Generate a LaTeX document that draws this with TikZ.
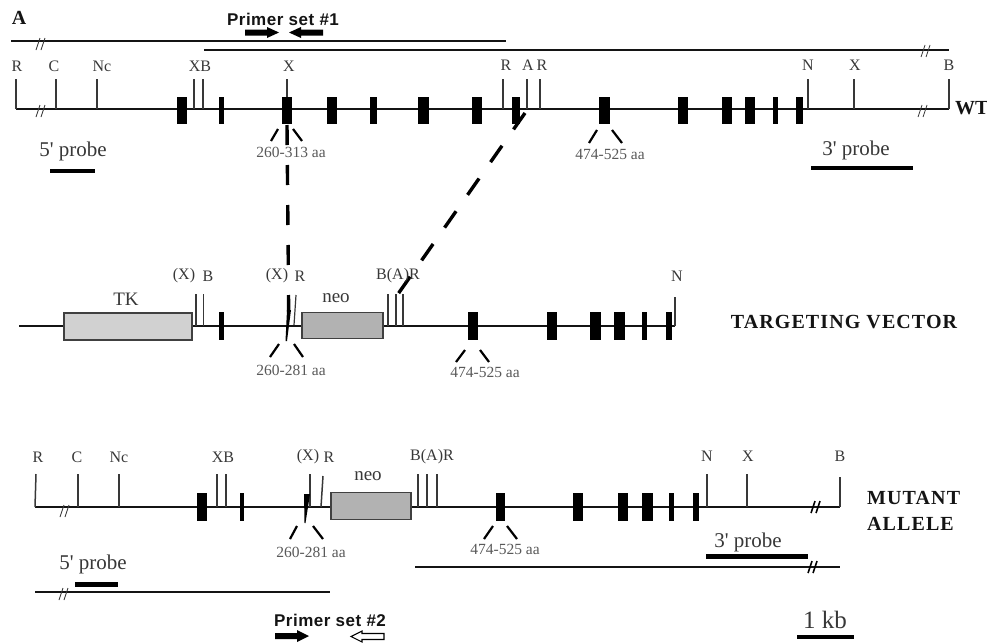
\documentclass[tikz,border=0pt]{standalone}
\usepackage{fontspec}
\setmainfont{Liberation Serif}
\newfontfamily\primerfont[LetterSpace=3]{Liberation Sans}
\newfontfamily\titlefont[LetterSpace=5.5]{Liberation Serif}
\newfontfamily\plainserif[Ligatures=NoCommon]{Liberation Serif}
\usetikzlibrary{calc}
\definecolor{ink}{gray}{0.08}
\definecolor{txt}{gray}{0.22}
\definecolor{tkfill}{gray}{0.82}
\definecolor{neofill}{gray}{0.70}
\tikzset{
  baseline line/.style={draw=ink,line width=2pt},
  cut tick/.style={draw=txt,line width=1.2pt},
  exon/.style={fill=black,draw=none},
  slash/.style={draw=black,line width=2.2pt},
  brk/.style={draw=txt,line width=0.8pt},
  brkbold/.style={draw=black,line width=1.6pt},
  probe/.style={fill=black,draw=none},
  site/.style={font=\fontsize{16}{16}\selectfont,text=txt,inner sep=0pt},
  aa/.style={font=\fontsize{15.5}{16}\selectfont,text=black!65,inner sep=0pt},
  probetext/.style={font=\plainserif\fontsize{21}{21}\selectfont,text=txt,inner sep=0pt},
  boxtext/.style={font=\fontsize{19}{19}\selectfont,text=txt,inner sep=0pt},
  primer/.style={font=\primerfont\bfseries\fontsize{17}{17}\selectfont,text=ink,inner sep=0pt},
  title/.style={font=\titlefont\bfseries\fontsize{20}{26}\selectfont,text=ink,inner sep=0pt,align=left},
  cassette/.style={draw=black!75,line width=1.3pt},
  homology/.style={draw=black,line width=3.4pt,dash pattern=on 20pt off 20pt},
}
\newcommand{\exn}[4]{\fill[exon] (#1,#3) rectangle (#2,#4);}
\newcommand{\tck}[3]{\draw[cut tick] (#1,#2) -- (#1,#3);}
\newcommand{\slsh}[4]{\draw[slash] (#1,#2) -- (#3,#4);}
\newcommand{\brkmark}[3]{\draw[#3] (#1-1,#2+6) -- (#1+3,#2-6) (#1+4,#2+6) -- (#1+8,#2-6);}
\begin{document}
\begin{tikzpicture}[x=1pt,y=-1pt]
\useasboundingbox (0,0) rectangle (987,643);
\fill[white] (0,0) rectangle (987,643);

% ---- Top: panel letter, primers, clone lines
\node[title,font=\bfseries\fontsize{20}{20}\selectfont] (lblA) at (19,18) {A};
\node[primer] (p1) at (283,19) {Primer set \#1};
\fill (245,29.5) -- (267,29.5) -- (267,27) -- (279,32.5) -- (267,38) -- (267,35.5) -- (245,35.5) -- cycle;
\fill (323,29.5) -- (301,29.5) -- (301,27) -- (289,32.5) -- (301,38) -- (301,35.5) -- (323,35.5) -- cycle;
\coordinate (c1a) at (11,41); \coordinate (c1b) at (506,41);
\coordinate (c2a) at (204,49.5); \coordinate (c2b) at (949,49.5);
\draw[baseline line] (c1a) -- (c1b);
\draw[baseline line] (c2a) -- (c2b);
\brkmark{37}{44}{brk}
\brkmark{922}{51}{brk}

% ---- WT
\coordinate (wta) at (16,109); \coordinate (wtb) at (949,109);
\draw[baseline line] (wta) -- (wtb);
\foreach \x in {16,56,97,194,203,287,503,527,540,808,854,949} {\tck{\x}{79}{109}}
\foreach \a/\b in {177/187,219/224,282/292,327/337,370/377,418/429,472/482,512/520,599/610,678/688,722/732,745/755,773/778,796/803} {\exn{\a}{\b}{97}{124}}
\brkmark{37}{111}{brk}
\brkmark{919}{111}{brk}
\node[site] (w1) at (17,66) {R};
\node[site] (w2) at (54,66) {C};
\node[site] (w3) at (102,66) {Nc};
\node[site] (w4) at (200,66) {XB};
\node[site] (w5) at (289,66) {X};
\node[site] (w6) at (506,65) {R};
\node[site] (w7) at (528,65) {A};
\node[site] (w8) at (542,65) {R};
\node[site] (w9) at (808,65) {N};
\node[site] (w10) at (855,65) {X};
\node[site] (w11) at (949,65) {B};
\node[title,anchor=west,font=\bfseries\fontsize{20}{20}\selectfont] (wt) at (955,108) {WT};
\slsh{278}{129}{271}{141}
\slsh{293}{129}{302}{141}
\slsh{597}{130}{589}{143}
\slsh{612}{130}{622}{143}
\node[aa] (waa1) at (291,152) {260-313 aa};
\node[aa] (waa2) at (610,154) {474-525 aa};
\node[probetext] (wp5) at (73,151) {5' probe};
\node[probetext] (wp3) at (856,150) {3' probe};
\fill[probe] (50,169) rectangle (95,173);
\fill[probe] (811,166) rectangle (913,170);

% ---- Homology dashed lines
\coordinate (h1a) at (287,125); \coordinate (h1b) at (288.3,266);
\coordinate (h1c) at (288.5,295); \coordinate (h1d) at (288.7,312);
\coordinate (h2a) at (525,113); \coordinate (h2b) at (398,294);
\draw[homology] (h1a) -- (h1b);
\draw[homology,dash pattern=on 20pt off 0pt] (h1c) -- (h1d);
\draw[homology] (h2a) -- (h2b);

% ---- Targeting vector
\coordinate (va) at (19,325.5); \coordinate (vb) at (675,325.5);
\draw[baseline line] (va) -- (vb);
\node[cassette,fill=tkfill,minimum width=128pt,minimum height=27pt,inner sep=0pt] (tkbox) at (128,326.5) {};
\node[cassette,fill=neofill,minimum width=81pt,minimum height=25.5pt,inner sep=0pt] (vneo) at (342.5,325.5) {};
\foreach \x in {196,203.5,388,396,403} {\tck{\x}{294}{326}}
\tck{675}{297}{326}
\draw[cut tick] (296,295) -- (294,325);
\foreach \a/\b in {219/224,468/478,547/557,590/601,614/625,642/647,666/672} {\exn{\a}{\b}{312}{340}}
\fill (287,310) -- (291,310) -- (287,341) -- (285.5,341) -- cycle;
\slsh{279}{344}{270}{357}
\slsh{294}{344}{303}{357}
\slsh{465}{350}{456}{362}
\slsh{480}{350}{489}{362}
\node[site] (v1) at (184,276) {(X)};
\node[site] (v2) at (208,276) {B};
\node[site] (v3) at (277,276) {(X)};
\node[site] (v4) at (300,276) {R};
\node[site] (v5) at (398,276) {B(A)R};
\node[site] (v6) at (677,276) {N};
\node[boxtext] (vtk) at (126,299) {TK};
\node[boxtext] (vn) at (336,298) {neo};
\node[aa] (vaa1) at (291,370) {260-281 aa};
\node[aa] (vaa2) at (485,372) {474-525 aa};
\node[title] (vt) at (844,322) {TARGETING VECTOR};

% ---- Mutant allele
\coordinate (ma) at (35,507); \coordinate (mb) at (840,507);
\draw[baseline line] (ma) -- (mb);
\foreach \x in {78,119,217,226,310,418,427,437,707,747} {\tck{\x}{474}{507}}
\tck{840}{477}{507}
\draw[cut tick,line width=1.5pt] (36,474) -- (35,507);
\draw[cut tick,line width=1.5pt] (323,476) -- (321,507);
\foreach \a/\b in {197/207,240/244,496/505,573/583,618/628,642/653,669/674,693/699} {\exn{\a}{\b}{493}{521}}
\fill (304,494) -- (310,494) -- (305.5,523) -- (304.5,523) -- cycle;
\node[cassette,fill=neofill,minimum width=80pt,minimum height=27pt,inner sep=0pt] (mneo) at (371,506) {};
\brkmark{61}{511}{brk}
\brkmark{812}{507}{brkbold}
\node[site] (m1) at (38,457) {R};
\node[site] (m2) at (77,457) {C};
\node[site] (m3) at (119,457) {Nc};
\node[site] (m4) at (223,457) {XB};
\node[site] (m5) at (308,457) {(X)};
\node[site] (m6) at (329,457) {R};
\node[site] (m7) at (432,457) {B(A)R};
\node[site] (m8) at (707,456) {N};
\node[site] (m9) at (748,456) {X};
\node[site] (m10) at (840,456) {B};
\node[boxtext] (mn) at (368,476) {neo};
\slsh{297}{526}{290}{539}
\slsh{313}{526}{323}{539}
\slsh{493}{526}{484}{539}
\slsh{507}{526}{517}{539}
\node[aa] (maa1) at (311,552) {260-281 aa};
\node[aa] (maa2) at (505,549) {474-525 aa};
\node[title,anchor=north west] (mt) at (867,491) {MUTANT\\ALLELE};

% ---- Mutant probes and lines
\node[probetext] (mp5) at (93,564) {5' probe};
\node[probetext] (mp3) at (748,542) {3' probe};
\fill[probe] (75,581.5) rectangle (118,587);
\fill[probe] (706,553.5) rectangle (808,558.5);
\coordinate (l1a) at (35,591.5); \coordinate (l1b) at (330,591.5);
\coordinate (l2a) at (415,566.5); \coordinate (l2b) at (840,566.5);
\draw[baseline line] (l1a) -- (l1b);
\draw[baseline line] (l2a) -- (l2b);
\brkmark{60}{594}{brk}
\brkmark{809}{567}{brkbold}

% ---- Primer set 2 and scale
\node[primer] (p2) at (330,620) {Primer set \#2};
\fill (275,633) -- (297,633) -- (297,630) -- (309,636) -- (297,642) -- (297,639) -- (275,639) -- cycle;
\draw[line width=1.1pt,fill=white] (384,633.5) -- (362,633.5) -- (362,631) -- (351,636.5) -- (362,642) -- (362,639.5) -- (384,639.5) -- cycle;
\node[probetext,font=\fontsize{25}{25}\selectfont] (kb) at (825,620) {1 kb};
\fill[probe] (797,635) rectangle (854,639);
\end{tikzpicture}
\end{document}
